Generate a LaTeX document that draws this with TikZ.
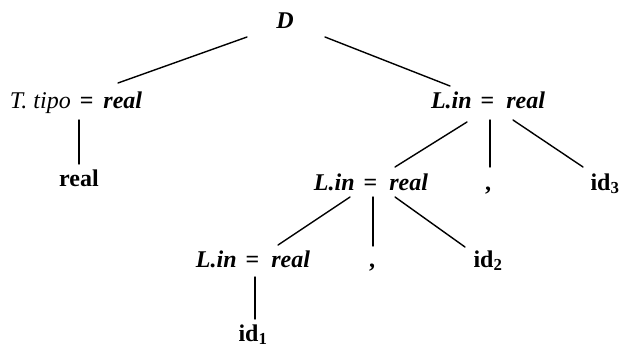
\documentclass[tikz,border=0pt]{standalone}
\usepackage{fontspec}
\setmainfont{Liberation Serif}
\usetikzlibrary{calc}
\newcommand{\lin}{\textbf{\textit{L.in}}\hspace{9pt}\textbf{=}\hspace{12pt}\textbf{\textit{real}}}
\begin{document}
\begin{tikzpicture}[x=1pt,y=-1pt,
  lbl/.style={anchor=base,inner sep=0pt,font=\fontsize{24}{27}\selectfont},
  edge/.style={line width=1.4pt,line cap=round}]
\useasboundingbox (0,0) rectangle (620,348);
\node[lbl] (D) at (285,28) {\textbf{\textit{D}}};
\node[lbl] (T) at (76,108) {\textit{T. tipo}\hspace{9pt}\textbf{=}\hspace{10pt}\textbf{\textit{real}}};
\node[lbl] (r) at (79,186) {\textbf{real}};
\node[lbl] (L1) at (488,108) {\lin};
\node[lbl] (L2) at (371,190) {\lin};
\node[lbl] (c1) at (488,190) {\textbf{,}};
\node[lbl] (i3) at (605,190) {\textbf{id}\textsubscript{\textbf{3}}};
\node[lbl] (L3) at (253,267) {\lin};
\node[lbl] (c2) at (372,267) {\textbf{,}};
\node[lbl] (i2) at (488,267) {\textbf{id}\textsubscript{\textbf{2}}};
\node[lbl] (i1) at (253,341) {\textbf{id}\textsubscript{\textbf{1}}};
\draw[edge] ($(D.base)+(-38,9)$) -- ($(T.base)+(42,-25)$);
\draw[edge] ($(D.base)+(40,9)$) -- ($(L1.base)+(-38,-22)$);
\draw[edge] ($(T.base)+(3,12)$) -- ($(r.base)+(0,-22)$);
\draw[edge] ($(L1.base)+(-21,14)$) -- ($(L2.base)+(24,-23)$);
\draw[edge] ($(L1.base)+(2,12)$) -- ($(c1.base)+(2,-23)$);
\draw[edge] ($(L1.base)+(25,12)$) -- ($(i3.base)+(-22,-23)$);
\draw[edge] ($(L2.base)+(-21,7)$) -- ($(L3.base)+(25,-22)$);
\draw[edge] ($(L2.base)+(2,7)$) -- ($(c2.base)+(1,-21)$);
\draw[edge] ($(L2.base)+(24,7)$) -- ($(i2.base)+(-23,-20)$);
\draw[edge] ($(L3.base)+(2,10)$) -- ($(i1.base)+(2,-22)$);
\end{tikzpicture}
\end{document}
